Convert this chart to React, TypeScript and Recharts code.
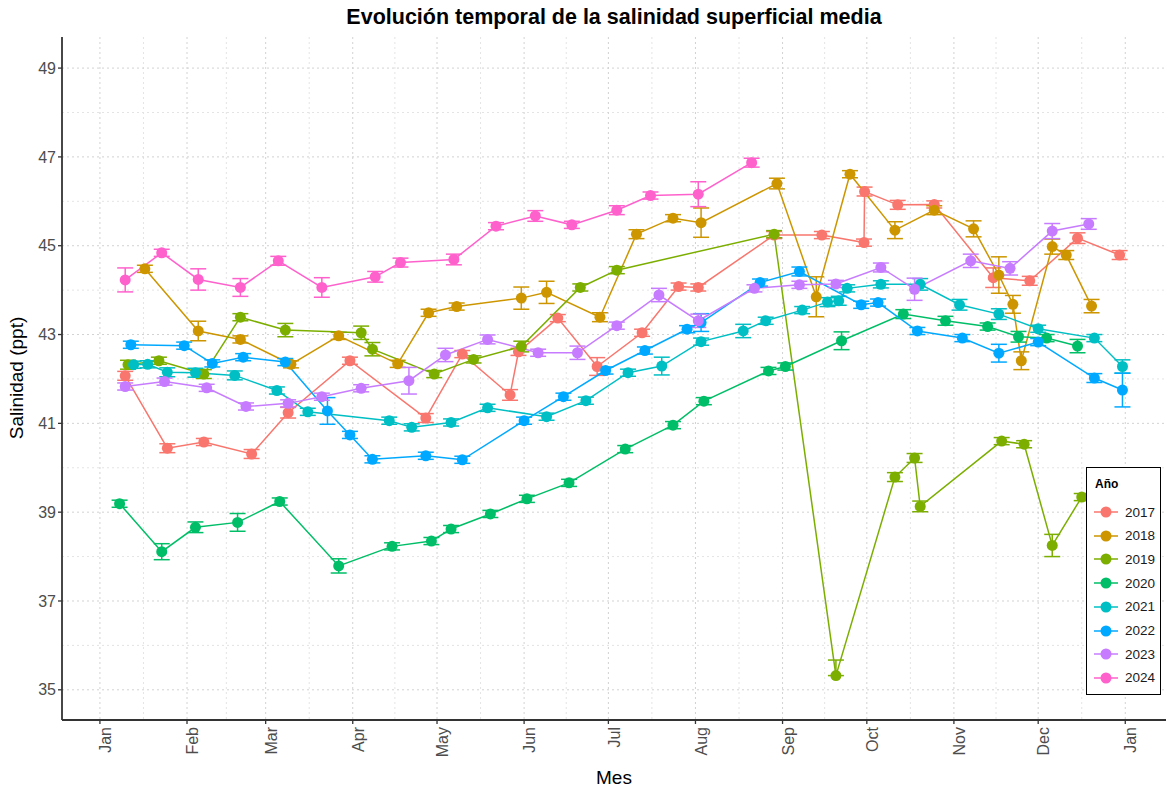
import { CartesianGrid, ErrorBar, Line, LineChart, XAxis, YAxis } from "recharts";

// day of year (0 = 1 Jan) for each sampling, mean salinity (ppt) and its error
const years = ["2017", "2018", "2019", "2020", "2021", "2022", "2023", "2024"];
const yearColors = ["#F8766D", "#CD9600", "#7CAE00", "#00BE67", "#00BFC4", "#00A9FF", "#C77CFF", "#FF61CC"];

const monthLabels = ["Jan", "Feb", "Mar", "Apr", "May", "Jun", "Jul", "Aug", "Sep", "Oct", "Nov", "Dec", "Jan"];
const monthStarts = [0, 31, 59, 90, 120, 151, 181, 212, 243, 273, 304, 334, 365];
const monthMids = [15.5, 45, 74.5, 105, 135.5, 166, 196.5, 227.5, 258, 288.5, 319, 349.5];
const salTicks = [35, 37, 39, 41, 43, 45, 47, 49];
const salMinor = [36, 38, 40, 42, 44, 46, 48];

const days2017 = [9, 24, 37, 54, 67, 89, 116, 129, 146, 149, 163, 177, 193, 206, 213, 240, 257, 272, 272.2, 284, 297, 318, 331, 348, 363];
const sal2017 = [42.07, 40.44, 40.58, 40.31, 41.24, 42.41, 41.12, 42.56, 41.64, 42.61, 43.37, 42.28, 43.04, 44.08, 44.06, 45.24, 45.24, 45.07, 46.22, 45.92, 45.93, 44.28, 44.21, 45.17, 44.79];
const se2017 = [0.1, 0.1, 0.08, 0.1, 0.12, 0.08, 0.1, 0.08, 0.12, 0.08, 0.08, 0.2, 0.08, 0.08, 0.08, 0.08, 0.08, 0.08, 0.1, 0.1, 0.08, 0.22, 0.1, 0.12, 0.1];

const days2018 = [16, 35, 50, 68, 85, 106, 117, 127, 150, 159, 178, 191, 204, 214, 241, 255, 267, 283, 297, 311, 320, 325, 328, 339, 344, 353];
const sal2018 = [44.48, 43.08, 42.89, 42.33, 42.97, 42.34, 43.49, 43.63, 43.82, 43.95, 43.39, 45.26, 45.62, 45.52, 46.4, 43.85, 46.61, 45.35, 45.8, 45.38, 44.34, 43.68, 42.41, 44.98, 44.79, 43.64];
const se2018 = [0.08, 0.22, 0.08, 0.08, 0.08, 0.08, 0.08, 0.08, 0.25, 0.25, 0.1, 0.1, 0.08, 0.33, 0.12, 0.45, 0.08, 0.19, 0.1, 0.18, 0.41, 0.2, 0.2, 0.17, 0.1, 0.15];

// the September low of 2019 only shows its upper bar
const days2019 = [10, 21, 37, 50, 66, 93, 97, 119, 133, 150, 171, 184, 240, 262, 283, 290, 292, 321, 329, 339, 349.5];
const sal2019 = [42.32, 42.41, 42.11, 43.39, 43.1, 43.04, 42.67, 42.11, 42.44, 42.73, 44.06, 44.45, 45.26, 35.32, 39.79, 40.22, 39.13, 40.6, 40.53, 38.25, 39.34];
const se2019: (number | number[])[] = [0.1, 0.08, 0.1, 0.08, 0.15, 0.15, 0.15, 0.08, 0.08, 0.12, 0.08, 0.08, 0.08, [0, 0.35], 0.1, 0.1, 0.12, 0.08, 0.08, 0.25, 0.08];

const days2020 = [7, 22, 34, 49, 64, 85, 104, 118, 125, 139, 152, 167, 187, 204, 215, 238, 244, 264, 286, 301, 316, 327, 337, 348];
const sal2020 = [39.19, 38.11, 38.66, 38.77, 39.24, 37.79, 38.23, 38.35, 38.62, 38.96, 39.3, 39.66, 40.42, 40.96, 41.5, 42.18, 42.28, 42.86, 43.46, 43.31, 43.18, 42.95, 42.92, 42.74];
const se2020 = [0.08, 0.18, 0.12, 0.2, 0.08, 0.16, 0.08, 0.08, 0.08, 0.08, 0.08, 0.08, 0.08, 0.08, 0.08, 0.08, 0.08, 0.2, 0.1, 0.1, 0.08, 0.12, 0.08, 0.15];

const days2021 = [12, 17, 24, 34, 48, 63, 74, 103, 111, 125, 138, 159, 173, 188, 200, 214, 229, 237, 250, 259, 263, 266, 278, 292, 306, 320, 334, 354, 364];
const sal2021 = [42.32, 42.33, 42.15, 42.14, 42.08, 41.74, 41.26, 41.06, 40.91, 41.02, 41.35, 41.15, 41.51, 42.14, 42.29, 42.84, 43.08, 43.31, 43.55, 43.73, 43.76, 44.04, 44.13, 44.13, 43.67, 43.46, 43.13, 42.92, 42.28];
const se2021 = [0.08, 0.08, 0.1, 0.1, 0.1, 0.08, 0.08, 0.08, 0.08, 0.08, 0.08, 0.08, 0.08, 0.08, 0.2, 0.08, 0.15, 0.08, 0.08, 0.1, 0.1, 0.08, 0.08, 0.13, 0.12, 0.12, 0.08, 0.08, 0.15];

const days2022 = [11, 30, 40, 51, 66, 81, 89, 97, 116, 129, 151, 165, 180, 194, 209, 214, 235, 249, 271, 277, 291, 307, 320, 334, 354, 364];
const sal2022 = [42.77, 42.75, 42.35, 42.49, 42.38, 41.28, 40.74, 40.19, 40.27, 40.18, 41.06, 41.6, 42.19, 42.64, 43.12, 43.27, 44.17, 44.42, 43.67, 43.72, 43.08, 42.92, 42.58, 42.83, 42.02, 41.75];
const se2022 = [0.08, 0.08, 0.08, 0.08, 0.08, 0.3, 0.08, 0.08, 0.08, 0.08, 0.08, 0.08, 0.08, 0.08, 0.08, 0.2, 0.08, 0.1, 0.08, 0.08, 0.08, 0.08, 0.2, 0.08, 0.1, 0.38];

const days2023 = [9, 23, 38, 52, 67, 79, 93, 110, 123, 138, 156, 170, 184, 199, 213, 233, 249, 262, 278, 290, 310, 324, 339, 352];
const sal2023 = [41.83, 41.94, 41.8, 41.38, 41.45, 41.6, 41.79, 41.96, 42.54, 42.89, 42.59, 42.59, 43.2, 43.89, 43.31, 44.04, 44.12, 44.14, 44.51, 44.02, 44.66, 44.49, 45.33, 45.49];
const se2023 = [0.08, 0.08, 0.08, 0.08, 0.08, 0.08, 0.08, 0.3, 0.15, 0.1, 0.08, 0.15, 0.08, 0.15, 0.15, 0.08, 0.08, 0.08, 0.1, 0.25, 0.15, 0.15, 0.17, 0.12];

const days2024 = [9, 22, 35, 50, 63.5, 79, 98, 107, 126, 141, 155, 168, 184, 196, 213, 232];
const sal2024 = [44.23, 44.84, 44.24, 44.06, 44.66, 44.06, 44.3, 44.62, 44.69, 45.44, 45.67, 45.47, 45.8, 46.13, 46.16, 46.87];
const se2024 = [0.27, 0.08, 0.24, 0.2, 0.1, 0.22, 0.12, 0.1, 0.12, 0.08, 0.12, 0.08, 0.1, 0.08, 0.28, 0.1];

const toPoints = (days: number[], sal: number[], se: (number | number[])[]) =>
  days.map((day, i) => ({ day, sal: sal[i], se: se[i] }));

const series = [
  toPoints(days2017, sal2017, se2017),
  toPoints(days2018, sal2018, se2018),
  toPoints(days2019, sal2019, se2019),
  toPoints(days2020, sal2020, se2020),
  toPoints(days2021, sal2021, se2021),
  toPoints(days2022, sal2022, se2022),
  toPoints(days2023, sal2023, se2023),
  toPoints(days2024, sal2024, se2024),
];

const FONT = '"Liberation Sans", Arial, Helvetica, sans-serif';

function MonthTick({ x, y, payload }: any) {
  const idx = monthStarts.indexOf(payload.value);
  const ty = y + 1;
  return (
    <text
      x={x}
      y={ty}
      transform={`rotate(-90 ${x} ${ty})`}
      textAnchor="end"
      dominantBaseline="hanging"
      fontSize={16}
      fill="#4d4d4d"
      fontFamily={FONT}
    >
      {monthLabels[idx]}
    </text>
  );
}

export default function App() {
  return (
    <div style={{ position: "absolute", left: 0, top: 0, width: 1172, height: 791, background: "#fff", fontFamily: FONT }}>
      <div style={{ position: "absolute", left: 62, width: 1104, top: 4, lineHeight: "26px", textAlign: "center", fontSize: 21.5, fontWeight: 700, color: "#000" }}>
        Evolución temporal de la salinidad superficial media
      </div>
      <LineChart width={1172} height={791} margin={{ top: 37, right: 6, bottom: 0, left: 0 }}>
        <CartesianGrid horizontalValues={salMinor} verticalValues={monthMids} stroke="#e4e4e4" strokeDasharray="2 3" />
        <CartesianGrid horizontalValues={salTicks} verticalValues={monthStarts} stroke="#d2d2d2" strokeDasharray="2 3" />
        <XAxis
          type="number"
          dataKey="day"
          domain={[-13.5, 379.5]}
          ticks={monthStarts}
          allowDataOverflow
          height={71}
          tick={<MonthTick />}
          tickSize={4}
          tickLine={{ stroke: "#333", strokeWidth: 1.3 }}
          axisLine={{ stroke: "#333", strokeWidth: 1.8 }}
        />
        <YAxis
          type="number"
          domain={[34.32, 49.7]}
          ticks={salTicks}
          allowDataOverflow
          width={62}
          tickSize={4}
          tick={{ fontSize: 16, fill: "#4d4d4d", fontFamily: FONT }}
          tickLine={{ stroke: "#333", strokeWidth: 1.3 }}
          axisLine={{ stroke: "#333", strokeWidth: 1.8 }}
        />
        {series.map((data, i) => (
          <Line
            key={years[i]}
            data={data}
            dataKey="sal"
            type="linear"
            stroke={yearColors[i]}
            strokeWidth={1.5}
            dot={{ r: 5.5, fill: yearColors[i], stroke: yearColors[i], strokeWidth: 0 }}
            activeDot={false}
            isAnimationActive={false}
          >
            <ErrorBar dataKey="se" direction="y" width={8} stroke={yearColors[i]} strokeWidth={1.5} />
          </Line>
        ))}
      </LineChart>
      <div
        style={{
          position: "absolute",
          left: 17,
          top: 378,
          transform: "translate(-50%, -50%) rotate(-90deg)",
          fontSize: 19,
          whiteSpace: "nowrap",
          color: "#000",
        }}
      >
        Salinidad (ppt)
      </div>
      <div style={{ position: "absolute", left: 62, width: 1104, top: 766, lineHeight: "24px", textAlign: "center", fontSize: 19, color: "#000" }}>
        Mes
      </div>
      <div
        style={{
          position: "absolute",
          left: 1086,
          top: 467,
          width: 73,
          height: 226,
          border: "1.6px solid #000",
          background: "#fff",
        }}
      >
        <div style={{ position: "absolute", left: 8, top: 9, fontSize: 12, fontWeight: 700 }}>Año</div>
        {years.map((y, i) => (
          <div key={y} style={{ position: "absolute", left: 6, top: 34 + i * 23.7, height: 20, display: "flex", alignItems: "center" }}>
            <svg width={26} height={20}>
              <line x1={1} x2={25} y1={10} y2={10} stroke={yearColors[i]} strokeWidth={1.5} />
              <circle cx={13} cy={10} r={5.5} fill={yearColors[i]} />
            </svg>
            <span style={{ marginLeft: 6, fontSize: 13.5, color: "#1a1a1a" }}>{y}</span>
          </div>
        ))}
      </div>
    </div>
  );
}
